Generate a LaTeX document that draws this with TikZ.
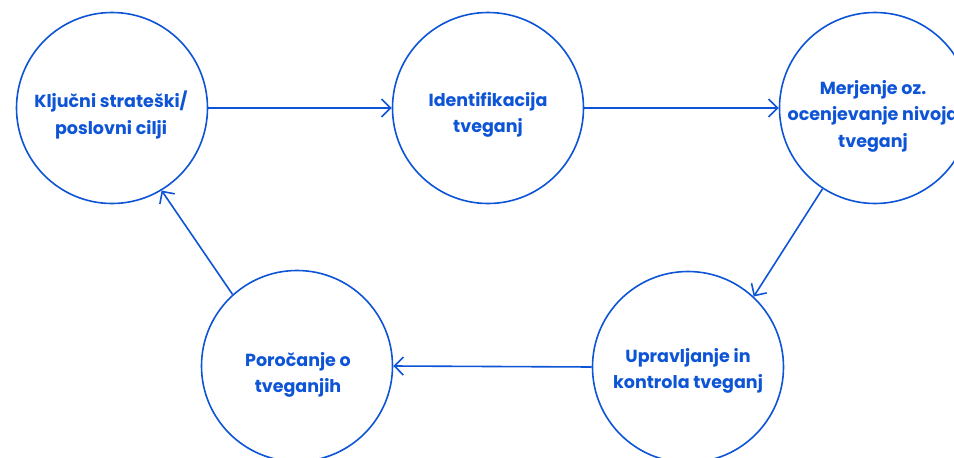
\documentclass[tikz,border=0pt]{standalone}
\usepackage{fontspec}
\setmainfont{Poppins}
\usetikzlibrary{arrows.meta}
\definecolor{cblue}{RGB}{14,84,214}
\tikzset{
  stage/.style={circle, draw=cblue, line width=1.6pt, minimum size=191pt, inner sep=0pt},
  lbl/.style={text=cblue, align=center, font=\fontsize{17.5}{26.5}\selectfont\bfseries},
  flow/.style={draw=cblue, line width=1.6pt, -{Straight Barb[length=9pt,width=18pt,line width=1.6pt]}}
}
\begin{document}
\begin{tikzpicture}[x=1pt,y=-1pt]
\useasboundingbox (0,0) rectangle (954,458);
\node[stage] (c1) at (112,108) {};
\node[stage] (c2) at (488,108) {};
\node[stage] (c3) at (875,108) {};
\node[stage] (c4) at (688,367) {};
\node[stage] (c5) at (297,366) {};
\node[lbl] (t1) at (111,115) {Ključni strateški/\\poslovni cilji};
\node[lbl] (t2) at (488,115) {Identifikacija\\tveganj};
\node[lbl] (t3) at (873,116) {Merjenje oz.\\ocenjevanje nivoja\\tveganj};
\node[lbl] (t4) at (688,371) {Upravljanje in\\kontrola tveganj};
\node[lbl] (t5) at (298,375) {Poročanje o\\tveganjih};
\draw[flow] (c1.east) -- (c2.west);
\draw[flow] (c2.east) -- (c3.west);
\draw[flow] (c3.237.6) -- (c4.47.1);
\draw[flow] (c4.west) -- (c5.east);
\draw[flow] (c5.132.9) -- (c1.301);
\end{tikzpicture}
\end{document}
